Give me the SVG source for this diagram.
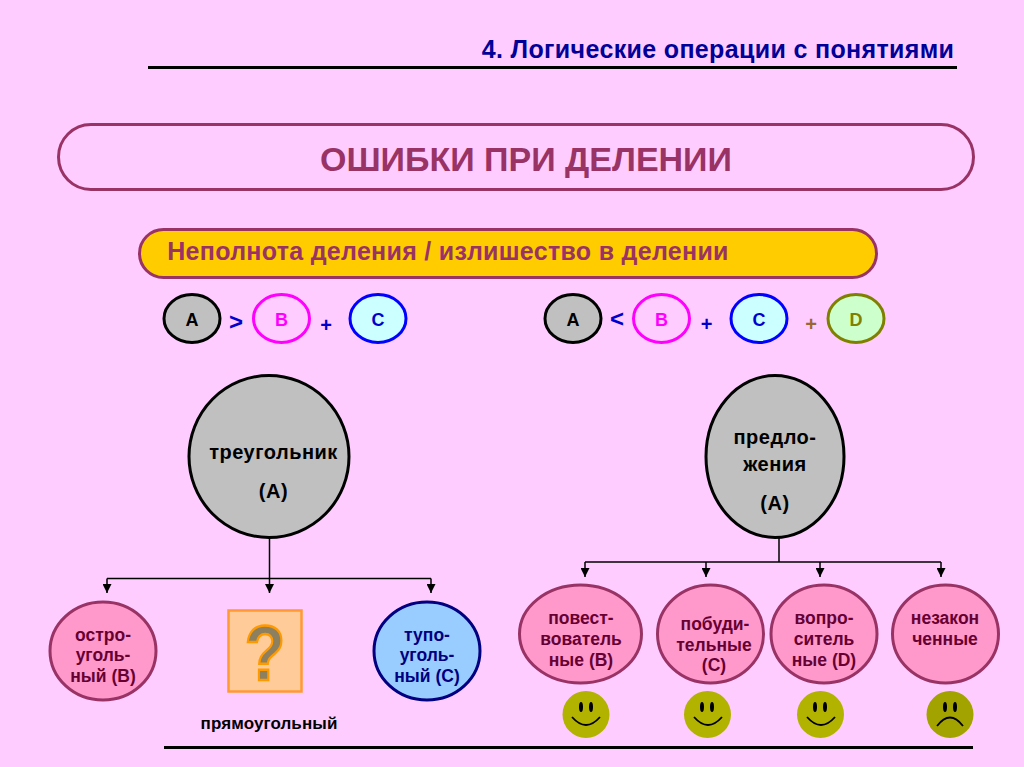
<svg xmlns="http://www.w3.org/2000/svg" width="1024" height="767" viewBox="0 0 1024 767">
<defs>
<marker id="arr" markerUnits="userSpaceOnUse" markerWidth="9" markerHeight="9" refX="8" refY="4" orient="auto" viewBox="0 0 8 8"><path d="M0 0L8 4L0 8Z" fill="#000"/></marker>
</defs>
<style>
text{font-family:"Liberation Sans",Arial,sans-serif;font-weight:bold;text-anchor:middle}
.rule{stroke:#000;stroke-width:3;fill:none}
.s{font-size:18px}
.op{font-size:24px;fill:#0000cc}
.big{fill:#c0c0c0;stroke:#000;stroke-width:3}
.bt{font-size:20px;fill:#000;letter-spacing:.5px}
.pink{fill:#ff99cc;stroke:#993366;stroke-width:3}
.pt{font-size:17.5px;fill:#660033}
.blue{fill:#99ccff;stroke:#000080;stroke-width:3}
.bl{font-size:17.5px;fill:#000080}
.smile{fill:#b2b200}
.mouth{fill:none;stroke:#000;stroke-width:1.8}
.eye{fill:#000}
.c{fill:none;stroke:#000;stroke-width:1.5}
</style>
<rect width="1024" height="767" fill="#ffccff"/>
<g id="header">
<text x="718" y="58" style="font-size:25px;letter-spacing:.35px" fill="#000099">4. Логические операции с понятиями</text>
<line class="rule" x1="148" y1="67.500" x2="957" y2="67.500"/>
</g>
<g id="title">
<rect x="58.500" y="124.500" width="915" height="65" rx="32.500" fill="none" stroke="#993366" stroke-width="3"/>
<text x="526" y="171" style="font-size:34px" fill="#993366">ОШИБКИ ПРИ ДЕЛЕНИИ</text>
</g>
<g id="subtitle">
<rect x="139.500" y="229.500" width="737" height="48" rx="24" fill="#ffcc00" stroke="#993366" stroke-width="3"/>
<text x="448" y="260" style="font-size:25px;letter-spacing:.3px" fill="#993366">Неполнота деления / излишество в делении</text>
</g>
<g id="formula-left">
<ellipse cx="192" cy="318.500" rx="28" ry="24" fill="#c0c0c0" stroke="#000" stroke-width="3"/><text class="s" x="192" y="326" fill="#000">A</text>
<text class="op" x="236" y="330">&gt;</text>
<ellipse cx="281.500" cy="318.500" rx="28" ry="24" fill="#ffccff" stroke="#ff00ff" stroke-width="3"/><text class="s" x="281.500" y="326" fill="#ff00ff">B</text>
<text x="326" y="332" style="font-size:20px" fill="#0000cc">+</text>
<ellipse cx="378" cy="318.500" rx="28" ry="24" fill="#ccffff" stroke="#0000ff" stroke-width="3"/><text class="s" x="378" y="326" fill="#0000cc">C</text>
</g>
<g id="formula-right">
<ellipse cx="573" cy="318.500" rx="28" ry="24" fill="#c0c0c0" stroke="#000" stroke-width="3"/><text class="s" x="573" y="326" fill="#000">A</text>
<text class="op" x="617" y="327">&lt;</text>
<ellipse cx="661.500" cy="318.500" rx="28" ry="24" fill="#ffccff" stroke="#ff00ff" stroke-width="3"/><text class="s" x="661.500" y="326" fill="#ff00ff">B</text>
<text x="706.500" y="331" style="font-size:20px" fill="#0000cc">+</text>
<ellipse cx="759" cy="318.500" rx="28" ry="24" fill="#ccffff" stroke="#0000ff" stroke-width="3"/><text class="s" x="759" y="326" fill="#0000cc">C</text>
<text x="811" y="331" style="font-size:20px" fill="#996633">+</text>
<ellipse cx="856" cy="318.500" rx="28" ry="24" fill="#ccffcc" stroke="#808000" stroke-width="3"/><text class="s" x="856" y="326" fill="#808000">D</text>
</g>
<g id="connectors">
<path class="c" d="M269.500 538V593" marker-end="url(#arr)"/>
<path class="c" d="M107 578.500H431"/>
<path class="c" d="M107 578.500V593" marker-end="url(#arr)"/>
<path class="c" d="M431 578.500V593" marker-end="url(#arr)"/>
<path class="c" d="M779 524V562"/>
<path class="c" d="M585 562H941"/>
<path class="c" d="M585 562V577" marker-end="url(#arr)"/>
<path class="c" d="M706 562V577" marker-end="url(#arr)"/>
<path class="c" d="M820 562V577" marker-end="url(#arr)"/>
<path class="c" d="M941 562V577" marker-end="url(#arr)"/>
</g>
<g id="triangle">
<ellipse class="big" cx="269" cy="456.500" rx="80" ry="81"/>
<text class="bt" x="273.500" y="458.500">треугольник</text>
<text class="bt" x="273.500" y="497.500">(А)</text>
</g>
<g id="sentences">
<ellipse class="big" cx="775" cy="456.500" rx="69" ry="81"/>
<text class="bt" x="775" y="444">предло-</text>
<text class="bt" x="775" y="471">жения</text>
<text class="bt" x="775" y="510">(А)</text>
</g>
<g id="acute">
<ellipse class="pink" cx="103" cy="651" rx="53" ry="49"/>
<text class="pt" x="103" y="641">остро-</text><text class="pt" x="103" y="661">уголь-</text><text class="pt" x="103" y="682">ный (В)</text>
</g>
<g id="right-angle">
<rect x="228.500" y="610.500" width="73" height="81" fill="#ffcc99" stroke="#ff9933" stroke-width="2.500"/>
<text transform="translate(265 680) scale(.85 1)" x="0" y="0" style="font-size:78px" fill="#8c8060" stroke="#ff9900" stroke-width="2.500">?</text>
<text x="269" y="729" style="font-size:17px;letter-spacing:.1px" fill="#000">прямоугольный</text>
</g>
<g id="obtuse">
<ellipse class="blue" cx="427" cy="651" rx="53" ry="49"/>
<text class="bl" x="427" y="641">тупо-</text><text class="bl" x="427" y="661">уголь-</text><text class="bl" x="427" y="682">ный (С)</text>
</g>
<g id="narrative">
<ellipse class="pink" cx="580.500" cy="634" rx="61" ry="49"/>
<text class="pt" x="581" y="624">повест-</text><text class="pt" x="581" y="645">вователь</text><text class="pt" x="581" y="666">ные (В)</text>
</g>
<g id="imperative">
<ellipse class="pink" cx="710.500" cy="634" rx="53" ry="49"/>
<text class="pt" x="715" y="630">побуди-</text><text class="pt" x="714" y="651">тельные</text><text class="pt" x="714" y="671">(С)</text>
</g>
<g id="interrogative">
<ellipse class="pink" cx="824" cy="634" rx="53" ry="49"/>
<text class="pt" x="824" y="624">вопро-</text><text class="pt" x="824" y="645">ситель</text><text class="pt" x="824" y="666">ные (D)</text>
</g>
<g id="incomplete">
<ellipse class="pink" cx="945.500" cy="634" rx="53" ry="49"/>
<text class="pt" x="945" y="624">незакон</text><text class="pt" x="945" y="645">ченные</text>
</g>
<g id="smiley-1"><circle class="smile" cx="586" cy="714.500" r="23.500"/><ellipse class="eye" cx="581" cy="707" rx="2" ry="5"/><ellipse class="eye" cx="591" cy="707" rx="2" ry="5"/><path class="mouth" d="M572 717Q586 733 600 717"/></g>
<g id="smiley-2"><circle class="smile" cx="707.500" cy="714.500" r="23.500"/><ellipse class="eye" cx="702" cy="707" rx="2" ry="5"/><ellipse class="eye" cx="712" cy="707" rx="2" ry="5"/><path class="mouth" d="M694 717Q708 733 722 717"/></g>
<g id="smiley-3"><circle class="smile" cx="820.500" cy="714.500" r="23.500"/><ellipse class="eye" cx="815" cy="707" rx="2" ry="5"/><ellipse class="eye" cx="825" cy="707" rx="2" ry="5"/><path class="mouth" d="M807 717Q821 733 835 717"/></g>
<g id="smiley-4"><circle cx="950" cy="714.500" r="23.500" fill="#a3a300"/><ellipse class="eye" cx="945" cy="707" rx="2" ry="5"/><ellipse class="eye" cx="955" cy="707" rx="2" ry="5"/><path class="mouth" d="M937 726Q950 709 963 726"/></g>
<g id="footer"><line class="rule" x1="164" y1="747.500" x2="973" y2="747.500"/></g>
</svg>
